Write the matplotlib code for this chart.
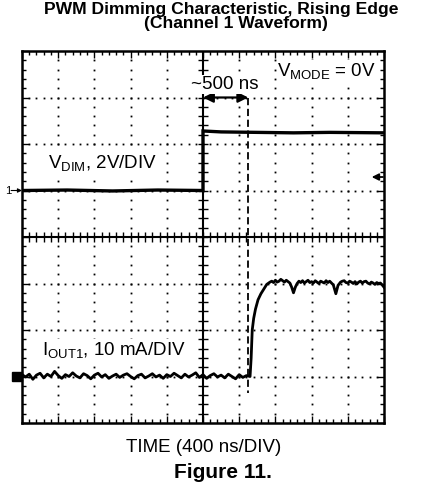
import numpy as np
import matplotlib
matplotlib.use('Agg')
import matplotlib.pyplot as plt
from matplotlib.patches import Rectangle

plt.rcParams['font.family'] = ['Liberation Sans', 'DejaVu Sans']
plt.rcParams['mathtext.fontset'] = 'custom'
plt.rcParams['mathtext.rm'] = 'Liberation Sans'
plt.rcParams['mathtext.it'] = 'Liberation Sans'

# scope traces, in divisions (x: 0..10 div, y: -4..4 div)
vdim_x = [0.0, 1.25, 2.5, 3.75, 5.0, 5.0, 5.5, 6.5, 7.5, 8.5, 10.0]
vdim_y = [1.0, 1.01, 0.99, 1.01, 1.0, 2.28, 2.26, 2.25, 2.24, 2.25, 2.24]

iout_x = [0.0, 0.1, 0.2, 0.3, 0.4, 0.5, 0.6, 0.7, 0.8, 0.9, 1.0, 1.1, 1.2, 1.3, 1.4, 1.5,
          1.6, 1.7, 1.8, 1.9, 2.0, 2.1, 2.2, 2.3, 2.4, 2.5, 2.6, 2.7, 2.8, 2.9, 3.0, 3.1,
          3.2, 3.3, 3.4, 3.5, 3.6, 3.7, 3.8, 3.9, 4.0, 4.1, 4.2, 4.3, 4.4, 4.5, 4.6, 4.7,
          4.8, 4.9, 5.0, 5.1, 5.2, 5.3, 5.4, 5.5, 5.6, 5.7, 5.8, 5.9, 6.0, 6.1, 6.2,
          6.3, 6.33, 6.36, 6.40, 6.45, 6.52, 6.60, 6.68, 6.76, 6.85,
          6.9, 6.95, 7.0, 7.05, 7.1, 7.15, 7.2, 7.25, 7.3, 7.35, 7.4, 7.45, 7.5, 7.55,
          7.6, 7.65, 7.7, 7.75, 7.8, 7.85, 7.9, 7.95, 8.0, 8.05, 8.1, 8.15, 8.2, 8.25,
          8.3, 8.35, 8.4, 8.45, 8.5, 8.55, 8.6, 8.67, 8.73, 8.8, 8.85, 8.9, 8.95, 9.0,
          9.05, 9.1, 9.15, 9.2, 9.25, 9.3, 9.35, 9.4, 9.45, 9.5, 9.55, 9.6, 9.65, 9.7,
          9.75, 9.8, 9.85, 9.9, 9.95, 10.0]
iout_y = [-2.96, -3.01, -2.95, -3.06, -2.97, -2.93, -3.03, -2.95, -3.00, -2.89, -2.98,
          -3.04, -2.96, -3.00, -2.92, -2.99, -3.03, -2.94, -2.98, -3.05, -2.97, -2.93,
          -3.01, -2.96, -3.04, -2.99, -2.95, -3.02, -2.97, -2.94, -3.00, -3.05, -2.98,
          -2.95, -3.03, -2.99, -2.94, -3.01, -2.97, -3.04, -2.96, -3.00, -2.93, -2.98,
          -3.03, -2.95, -3.01, -2.97, -2.92, -3.02, -2.96, -3.04, -2.98, -2.94, -3.01,
          -2.97, -3.03, -2.95, -3.00, -3.05, -2.96, -3.02, -2.98,
          -3.0, -2.6, -2.0, -1.75, -1.55, -1.35, -1.22, -1.12, -1.02, -0.97,
          -0.95, -0.98, -0.93, -0.97, -0.95, -0.91, -0.94, -0.97, -0.93, -0.96, -0.99,
          -1.08, -1.2, -1.08, -1.0, -0.95, -0.98, -0.94, -0.99, -0.96, -0.93, -0.98,
          -0.96, -0.99, -0.94, -0.97, -1.0, -0.95, -0.97, -0.99, -0.94, -0.98, -0.95,
          -0.99, -1.03, -1.22, -1.04, -0.97, -0.95, -0.94, -0.98, -0.99, -0.95, -0.97,
          -1.0, -0.96, -1.01, -0.97, -0.95, -0.99, -0.96, -0.95, -0.99, -1.01, -0.97,
          -0.99, -1.02, -0.98, -1.0, -0.99, -1.03, -1.08]

delay_start = 5.0
delay_end = 6.25
trig_level = 1.29

fig = plt.figure(figsize=(4.45, 4.91), dpi=100)
ax = fig.add_axes([22 / 445, 1 - 423 / 491, 362 / 445, 372 / 491])
ax.set_xlim(0, 10)
ax.set_ylim(-4, 4)

# graticule
for s in ax.spines.values():
    s.set_linewidth(1.8)
ax.set_xticks(np.arange(0, 11, 1))
ax.set_yticks(np.arange(-4, 5, 1))
ax.set_xticks(np.arange(0, 10.01, 0.2), minor=True)
ax.set_yticks(np.arange(-4, 4.01, 0.2), minor=True)
ax.tick_params(which='both', direction='in', top=True, right=True,
               labelbottom=False, labelleft=False, width=1.0)
ax.tick_params(which='major', length=5)
ax.tick_params(which='minor', length=3)

for gx in [1, 2, 3, 4, 6, 7, 8, 9]:
    yy = np.arange(-3.8, 3.81, 0.2)
    ax.plot(np.full_like(yy, gx), yy, 's', ms=1.3, color='black', mew=0)
for gy in [-3, -2, -1, 1, 2, 3]:
    xx = np.arange(0.2, 9.81, 0.2)
    ax.plot(xx, np.full_like(xx, gy), 's', ms=1.3, color='black', mew=0)

ax.axhline(0, color='black', lw=1.5)
ax.axvline(5, color='black', lw=1.5)
cx = np.arange(0.2, 9.81, 0.2)
ax.plot(cx, np.zeros_like(cx), '|', ms=7, mew=1.0, color='black')
cy = np.arange(-3.8, 3.81, 0.2)
ax.plot(np.full_like(cy, 5.0), cy, '_', ms=7, mew=1.0, color='black')

# traces
ax.plot(vdim_x, vdim_y, color='black', lw=2.4, solid_joinstyle='miter')
ax.plot(iout_x, iout_y, color='black', lw=2.0)

# delay annotation
ax.plot([delay_end, delay_end], [3.0, -3.35], color='black', lw=1.3, ls=(0, (4, 2)))
ax.annotate('', xy=(delay_start, 3.0), xytext=(delay_end, 3.0),
            arrowprops=dict(arrowstyle='<|-|>', lw=1.6, color='black',
                            mutation_scale=15, shrinkA=0, shrinkB=0))

lbl = dict(fontsize=13.5, zorder=5,
           bbox=dict(facecolor='white', edgecolor='none', pad=0.5))
ax.text(5.6, 3.1, '~500 ns', ha='center', va='bottom', **lbl)
ax.text(9.78, 3.57, r'V$_{\mathrm{MODE}}$ = 0V', ha='right', va='center', **lbl)
ax.text(0.72, 1.59, r'V$_{\mathrm{DIM}}$, 2V/DIV', ha='left', va='center', **lbl)
ax.text(0.55, -2.43, r'I$_{\mathrm{OUT1}}$, 10 mA/DIV', ha='left', va='center', **lbl)

# channel and trigger markers
ax.text(-0.3, 1.0, '1', ha='right', va='center', fontsize=8, clip_on=False)
ax.annotate('', xy=(0, 1.0), xytext=(-0.3, 1.0), annotation_clip=False,
            arrowprops=dict(arrowstyle='-|>', lw=0.8, color='black',
                            mutation_scale=6, shrinkA=0, shrinkB=0))
ax.add_patch(Rectangle((-0.28, -3.09), 0.28, 0.18, color='black', clip_on=False))
ax.annotate('', xy=(9.66, trig_level), xytext=(9.97, trig_level),
            arrowprops=dict(arrowstyle='-|>', lw=1.3, color='black',
                            mutation_scale=10, shrinkA=0, shrinkB=0))

fig.text(221 / 445, 1 - 14 / 491, 'PWM Dimming Characteristic, Rising Edge',
         ha='center', va='baseline', fontsize=12.6, fontweight='bold')
fig.text(236 / 445, 1 - 28 / 491, '(Channel 1 Waveform)',
         ha='center', va='baseline', fontsize=12.6, fontweight='bold')
fig.text(204 / 445, 1 - 448 / 491, 'TIME (400 ns/DIV)',
         ha='center', va='center', fontsize=13.5)
fig.text(223 / 445, 1 - 472 / 491, 'Figure 11.',
         ha='center', va='center', fontsize=15, fontweight='bold')

fig.savefig('out.png', dpi=100)
